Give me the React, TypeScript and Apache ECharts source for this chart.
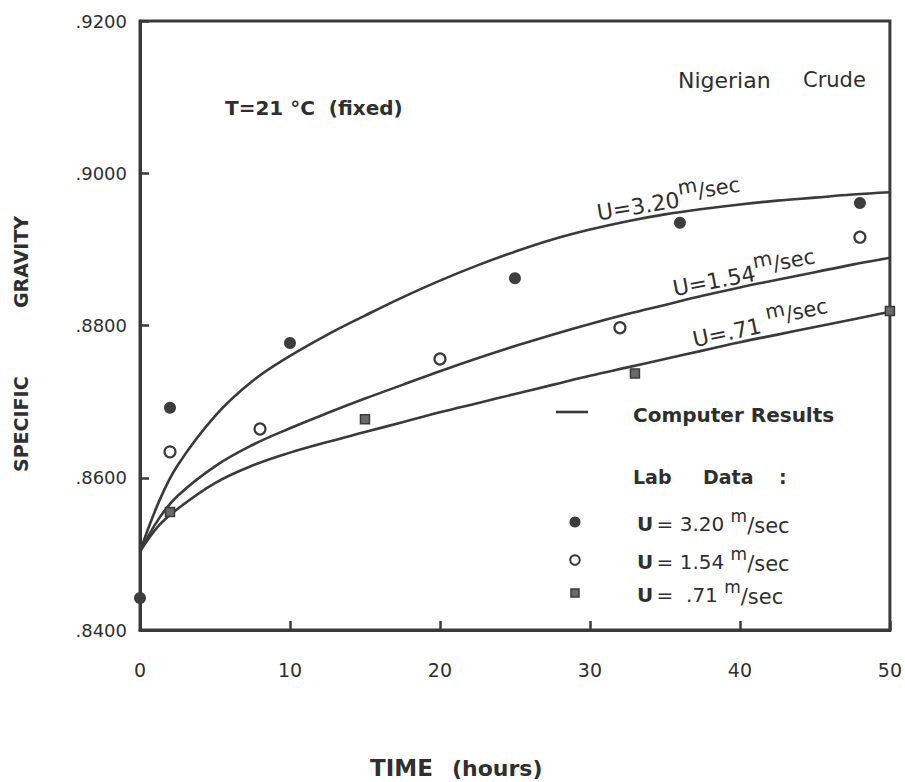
import React, { useEffect, useRef } from "react";
import * as echarts from "echarts";

// ---- data ----
const curveTimes = [0, 1.25, 2.5, 5, 7.5, 10, 12.5, 15, 17.5, 20, 22.5, 25, 27.5, 30, 32.5, 35, 37.5, 40, 42.5, 45, 47.5, 50];
const curveU320 = [0.8503, 0.8568, 0.8616, 0.8681, 0.8727, 0.876, 0.8788, 0.8813, 0.8837, 0.8859, 0.8879, 0.8897, 0.8913, 0.8926, 0.8937, 0.8946, 0.8953, 0.8959, 0.8964, 0.8968, 0.8972, 0.8975];
const curveU154 = [0.8503, 0.8546, 0.8576, 0.8615, 0.8643, 0.8665, 0.8685, 0.8704, 0.8722, 0.874, 0.8757, 0.8773, 0.8788, 0.8802, 0.8815, 0.8827, 0.8839, 0.885, 0.886, 0.887, 0.888, 0.8889];
const curveU071 = [0.8503, 0.8537, 0.8559, 0.8593, 0.8616, 0.8633, 0.8647, 0.866, 0.8673, 0.8686, 0.8698, 0.871, 0.8722, 0.8734, 0.8745, 0.8756, 0.8767, 0.8778, 0.8788, 0.8798, 0.8808, 0.8818];

const labTimesU320 = [0, 2, 10, 25, 36, 48];
const labU320 = [0.8442, 0.8692, 0.8777, 0.8862, 0.8935, 0.8961];
const labTimesU154 = [2, 8, 20, 32, 48];
const labU154 = [0.8634, 0.8664, 0.8756, 0.8797, 0.8916];
const labTimesU071 = [2, 15, 33, 50];
const labU071 = [0.8555, 0.8677, 0.8737, 0.8819];

const xTicks = [0, 10, 20, 30, 40, 50];
const yTicks = [0.84, 0.86, 0.88, 0.9, 0.92];

const FONT = "'DejaVu Sans', 'Liberation Sans', sans-serif";
const INK = "#2f2f2f";
const LINE = "#3a3a3a";

const zip = (xs: number[], ys: number[]) => xs.map((x, i) => [x, ys[i]]);

// curve labels: "m" raised most, "/sec" raised a little
const curveRich = {
  n: { fontFamily: FONT, fontSize: 22, color: INK, lineHeight: 44 },
  s: { fontFamily: FONT, fontSize: 20, color: INK, verticalAlign: "top" },
  t: { fontFamily: FONT, fontSize: 21, color: INK, verticalAlign: "top", padding: [6, 0, 0, 0] },
};
// legend labels: "m" raised, "/sec" on the line
const legendRich = {
  b: { fontFamily: FONT, fontSize: 20, fontWeight: "bold", color: INK, lineHeight: 36 },
  n: { fontFamily: FONT, fontSize: 20, color: INK, lineHeight: 36 },
  s: { fontFamily: FONT, fontSize: 17, color: INK, verticalAlign: "top", padding: [1, 0, 0, 0] },
  t: { fontFamily: FONT, fontSize: 21, color: INK, lineHeight: 36, padding: [3, 0, 0, 0] },
};

const txt = (x: number, y: number, text: string, size: number, bold = false, rotation = 0) => ({
  type: "text",
  x,
  y,
  rotation,
  silent: true,
  style: {
    text,
    font: `${bold ? "bold " : ""}${size}px ${FONT}`,
    fill: INK,
    textAlign: "left",
    align: "left",
    textVerticalAlign: "middle",
    verticalAlign: "middle",
  },
});

const richTxt = (x: number, y: number, text: string, rich: any, rotation = 0) => ({
  type: "text",
  x,
  y,
  rotation,
  silent: true,
  style: {
    text,
    rich,
    fill: INK,
    textAlign: "left",
    align: "left",
    textVerticalAlign: "middle",
    verticalAlign: "middle",
  },
});

const curveSeries = (name: string, ys: number[]) => ({
  name,
  type: "line",
  data: zip(curveTimes, ys),
  smooth: 0.4,
  showSymbol: false,
  lineStyle: { color: LINE, width: 2.6 },
  silent: true,
});

export default function App() {
  const ref = useRef<HTMLDivElement>(null);
  useEffect(() => {
    if (!ref.current) return;
    const chart = echarts.init(ref.current, undefined, { renderer: "svg" });
    const option: any = {
      animation: false,
      backgroundColor: "#ffffff",
      grid: {
        left: 140,
        right: 10,
        top: 21,
        bottom: 152,
        show: true,
        borderColor: LINE,
        borderWidth: 3,
        backgroundColor: "transparent",
      },
      xAxis: {
        type: "value",
        min: xTicks[0],
        max: xTicks[xTicks.length - 1],
        interval: 10,
        axisLine: { show: true, lineStyle: { color: LINE, width: 3 } },
        axisTick: { show: true, inside: true, length: 9, lineStyle: { color: LINE, width: 2.5 } },
        axisLabel: { margin: 30, fontFamily: FONT, fontSize: 19, color: INK },
        splitLine: { show: false },
      },
      yAxis: {
        type: "value",
        min: yTicks[0],
        max: yTicks[yTicks.length - 1],
        interval: 0.02,
        axisLine: { show: true, lineStyle: { color: LINE, width: 3 } },
        axisTick: { show: true, inside: true, length: 9, lineStyle: { color: LINE, width: 2.5 } },
        axisLabel: {
          margin: 13,
          fontFamily: FONT,
          fontSize: 18,
          color: INK,
          formatter: (v: number) => v.toFixed(4).replace(/^0/, ""),
        },
        splitLine: { show: false },
      },
      series: [
        curveSeries("U=3.20 m/sec (computed)", curveU320),
        curveSeries("U=1.54 m/sec (computed)", curveU154),
        curveSeries("U=.71 m/sec (computed)", curveU071),
        {
          name: "U=3.20 m/sec (lab)",
          type: "scatter",
          data: zip(labTimesU320, labU320),
          symbol: "circle",
          symbolSize: 12,
          itemStyle: { color: "#3d3d3d", opacity: 1 },
          clip: false,
          z: 5,
        },
        {
          name: "U=1.54 m/sec (lab)",
          type: "scatter",
          data: zip(labTimesU154, labU154),
          symbol: "circle",
          symbolSize: 11,
          itemStyle: { color: "#ffffff", borderColor: "#3a3a3a", borderWidth: 2.2, opacity: 1 },
          clip: false,
          z: 5,
        },
        {
          name: "U=.71 m/sec (lab)",
          type: "scatter",
          data: zip(labTimesU071, labU071),
          symbol: "rect",
          symbolSize: 9,
          itemStyle: { color: "#6a6a6a", borderColor: "#3a3a3a", borderWidth: 1.5, opacity: 1 },
          clip: false,
          z: 5,
        },
      ],
      graphic: [
        // annotations
        txt(225, 108, "T=21 °C  (fixed)", 20, true),
        txt(678, 80, "Nigerian", 22, false),
        txt(803, 80, "Crude", 21, false),
        // curve labels
        richTxt(597, 213, "{n|U=3.20}{s|m}{t|/sec}", curveRich, 0.16),
        richTxt(673, 289, "{n|U=1.54}{s|m}{t|/sec}", curveRich, 0.19),
        richTxt(693, 340, "{n|U=.71 }{s|m}{t|/sec}", curveRich, 0.21),
        // legend
        { type: "line", silent: true, shape: { x1: 556, y1: 412, x2: 588, y2: 412 }, style: { stroke: LINE, lineWidth: 2.6 } },
        txt(633, 415, "Computer Results", 20, true),
        txt(633, 477, "Lab", 19, true),
        txt(703, 477, "Data", 19, true),
        txt(779, 477, ":", 19, true),
        { type: "circle", silent: true, shape: { cx: 575, cy: 522, r: 5.5 }, style: { fill: "#3d3d3d" } },
        { type: "circle", silent: true, shape: { cx: 575, cy: 560, r: 4.8 }, style: { fill: "#fff", stroke: "#3a3a3a", lineWidth: 2 } },
        { type: "rect", silent: true, shape: { x: 571, y: 589, width: 8, height: 8 }, style: { fill: "#6a6a6a", stroke: "#3a3a3a", lineWidth: 1.5 } },
        richTxt(637, 524, "{b|U} {n|= 3.20 }{s|m}{t|/sec}", legendRich),
        richTxt(637, 562, "{b|U} {n|= 1.54 }{s|m}{t|/sec}", legendRich),
        richTxt(637, 595, "{b|U} {n|=  .71 }{s|m}{t|/sec}", legendRich),
        // axis titles
        txt(370, 768, "TIME", 23, true),
        txt(452, 768, "(hours)", 22, true),
        txt(21, 472, "SPECIFIC", 19, true, Math.PI / 2),
        txt(21, 308, "GRAVITY", 19, true, Math.PI / 2),
      ],
    };
    chart.setOption(option);
    return () => chart.dispose();
  }, []);
  return <div ref={ref} style={{ width: 905, height: 782, position: "absolute", left: 0, top: 0 }} />;
}
